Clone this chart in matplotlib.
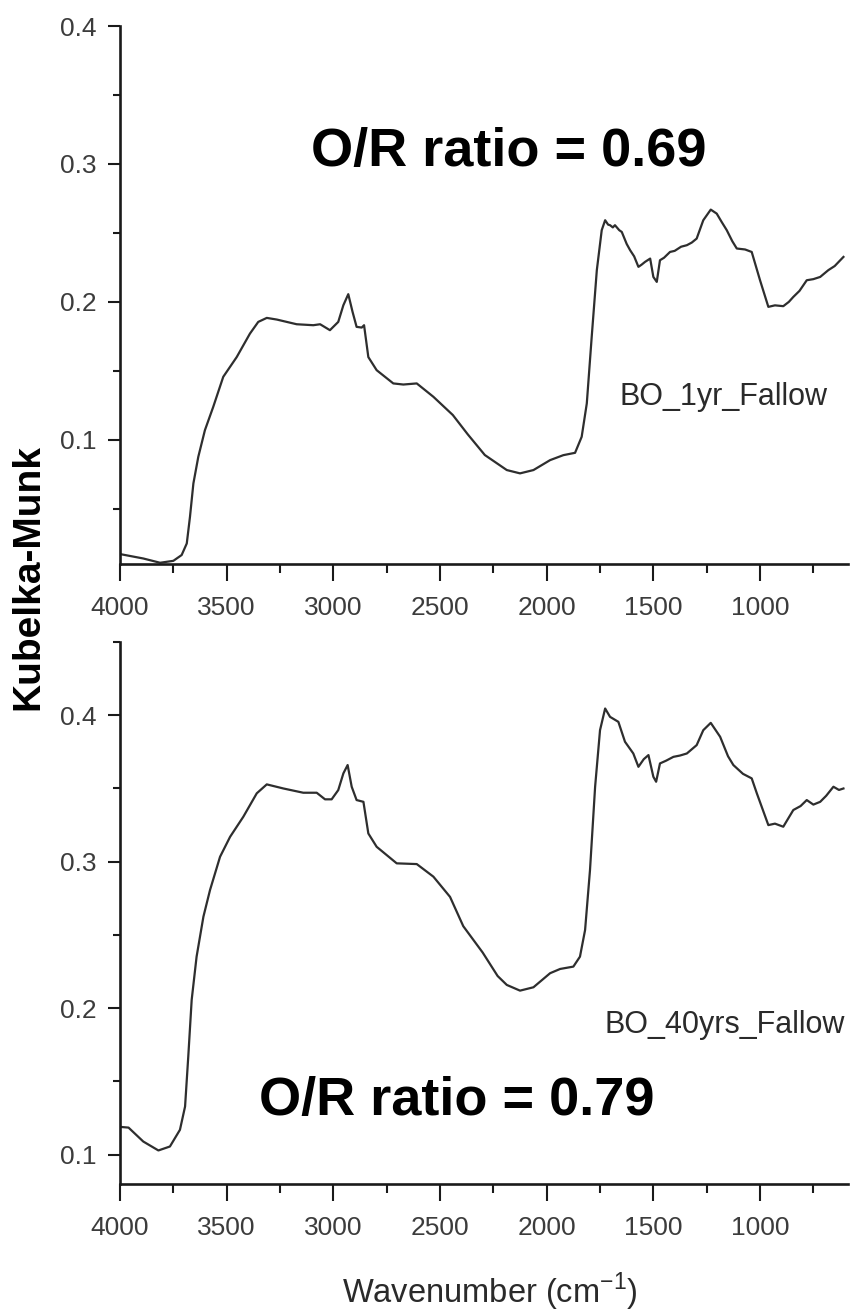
import matplotlib
matplotlib.use("Agg")
import matplotlib.pyplot as plt
from matplotlib.ticker import MultipleLocator

plt.rcParams['font.family'] = ['Liberation Sans', 'DejaVu Sans']
plt.rcParams['mathtext.fontset'] = 'custom'
plt.rcParams['mathtext.rm'] = 'Liberation Sans'

# DRIFT spectra (Kubelka-Munk units) of the two fallow soils
wn_1yr = [4000, 3891, 3812, 3750, 3711, 3687, 3672, 3656, 3633, 3602, 3563, 3516,
          3453, 3391, 3352, 3312, 3265, 3172, 3094, 3062, 3016, 2977, 2953, 2930,
          2910, 2891, 2867, 2856, 2836, 2797, 2719, 2672, 2609, 2531, 2440, 2370,
          2290, 2187, 2125, 2062, 1984, 1922, 1867, 1836, 1812, 1789, 1765, 1742,
          1726, 1712, 1703, 1690, 1680, 1660, 1648, 1625, 1609, 1590, 1570, 1555,
          1539, 1515, 1500, 1484, 1469, 1450, 1422, 1400, 1370, 1343, 1320, 1297,
          1266, 1231, 1203, 1180, 1156, 1130, 1109, 1070, 1039, 1000, 961, 930,
          891, 865, 844, 815, 781, 750, 718, 680, 650, 609]
km_1yr = [0.0172, 0.0140, 0.0109, 0.0123, 0.0165, 0.0249, 0.0442, 0.0684, 0.0877, 0.1070, 0.1239, 0.1457,
          0.1600, 0.1770, 0.1855, 0.1884, 0.1872, 0.1838, 0.1831, 0.1838, 0.1795, 0.1855, 0.1976, 0.2056,
          0.1928, 0.1819, 0.1814, 0.1831, 0.1600, 0.1505, 0.1409, 0.1401, 0.1409, 0.1312, 0.1180, 0.1040,
          0.0890, 0.0781, 0.0757, 0.0781, 0.0853, 0.0889, 0.0906, 0.1022, 0.1264, 0.1746, 0.2230, 0.2520,
          0.2592, 0.2560, 0.2556, 0.2540, 0.2556, 0.2520, 0.2507, 0.2420, 0.2375, 0.2330, 0.2254, 0.2270,
          0.2290, 0.2314, 0.2181, 0.2145, 0.2302, 0.2320, 0.2362, 0.2370, 0.2400, 0.2411, 0.2430, 0.2459,
          0.2592, 0.2669, 0.2640, 0.2580, 0.2520, 0.2440, 0.2387, 0.2380, 0.2362, 0.2157, 0.1964, 0.1975,
          0.1969, 0.2000, 0.2036, 0.2080, 0.2157, 0.2165, 0.2181, 0.2230, 0.2260, 0.2326]

wn_40yrs = [4000, 3960, 3891, 3820, 3766, 3719, 3695, 3680, 3664, 3641, 3609, 3578,
            3531, 3484, 3422, 3359, 3312, 3234, 3141, 3078, 3039, 3008, 2977, 2953,
            2933, 2914, 2891, 2859, 2836, 2797, 2703, 2609, 2531, 2453, 2391, 2300,
            2230, 2187, 2125, 2062, 1984, 1937, 1875, 1844, 1820, 1797, 1773, 1750,
            1726, 1703, 1664, 1633, 1594, 1570, 1545, 1523, 1500, 1487, 1469, 1440,
            1406, 1375, 1343, 1297, 1266, 1231, 1187, 1150, 1125, 1080, 1039, 1015,
            961, 930, 891, 870, 844, 810, 781, 750, 718, 690, 656, 630, 609]
km_40yrs = [0.1190, 0.1185, 0.1090, 0.1029, 0.1056, 0.1170, 0.1329, 0.1670, 0.2057, 0.2352, 0.2625, 0.2807,
            0.3034, 0.3170, 0.3307, 0.3467, 0.3528, 0.3500, 0.3471, 0.3471, 0.3426, 0.3426, 0.3489, 0.3603,
            0.3660, 0.3512, 0.3421, 0.3409, 0.3193, 0.3102, 0.2989, 0.2984, 0.2898, 0.2760, 0.2560, 0.2380,
            0.2220, 0.2159, 0.2120, 0.2143, 0.2239, 0.2268, 0.2284, 0.2352, 0.2534, 0.2943, 0.3512, 0.3898,
            0.4046, 0.3989, 0.3955, 0.3819, 0.3739, 0.3648, 0.3700, 0.3728, 0.3580, 0.3546, 0.3671, 0.3690,
            0.3716, 0.3725, 0.3739, 0.3796, 0.3898, 0.3948, 0.3853, 0.3720, 0.3660, 0.3600, 0.3569, 0.3467,
            0.3250, 0.3260, 0.3239, 0.3290, 0.3353, 0.3380, 0.3421, 0.3390, 0.3409, 0.3450, 0.3512, 0.3490,
            0.3500]

panels = [
    dict(wn=wn_1yr, km=km_1yr, ylim=(0.01, 0.4), name='BO_1yr_Fallow', ratio='O/R ratio = 0.69'),
    dict(wn=wn_40yrs, km=km_40yrs, ylim=(0.08, 0.45), name='BO_40yrs_Fallow', ratio='O/R ratio = 0.79'),
]

W, H = 852, 1316
fig = plt.figure(figsize=(W / 100, H / 100), dpi=100)

ax_top = fig.add_axes([120 / W, 1 - 564 / H, 727.5 / W, 538 / H])
ax_bot = fig.add_axes([120 / W, 1 - 1184 / H, 727.5 / W, 542 / H])

tick_color = '#3c3c3c'
for ax, p in zip([ax_top, ax_bot], panels):
    ax.plot(p['wn'], p['km'], color='#2e2e2e', lw=1.6)
    ax.set_xlim(4000, 590)
    ax.set_ylim(*p['ylim'])
    for s in ['top', 'right']:
        ax.spines[s].set_visible(False)
    for s in ['left', 'bottom']:
        ax.spines[s].set_linewidth(1.9)
        ax.spines[s].set_color('#1a1a1a')
    ax.xaxis.set_major_locator(MultipleLocator(500))
    ax.xaxis.set_minor_locator(MultipleLocator(250))
    ax.yaxis.set_major_locator(MultipleLocator(0.1))
    ax.yaxis.set_minor_locator(MultipleLocator(0.05))
    ax.tick_params(axis='x', which='major', direction='out', length=12, width=1.5,
                   pad=11, labelsize=19, labelcolor=tick_color, color='#1a1a1a')
    ax.tick_params(axis='x', which='minor', direction='out', length=6.5, width=1.5,
                   color='#1a1a1a')
    ax.tick_params(axis='y', which='major', direction='out', length=9, width=1.5,
                   pad=8, labelsize=19, labelcolor=tick_color, color='#1a1a1a')
    ax.tick_params(axis='y', which='minor', direction='out', length=5, width=1.5,
                   color='#1a1a1a')
    ax.xaxis.set_major_formatter(plt.FuncFormatter(lambda v, _: f'{v:.0f}'))
    ax.yaxis.set_major_formatter(plt.FuncFormatter(lambda v, _: f'{v:.1f}'))

# sample names and O/R ratios
fig.text(723 / W, 1 - 405 / H, panels[0]['name'], ha='center', va='baseline',
         fontsize=22, color='#2a2a2a')
fig.text(725 / W, 1 - 1033 / H, panels[1]['name'], ha='center', va='baseline',
         fontsize=22, color='#2a2a2a')
fig.text(509 / W, 1 - 166 / H, panels[0]['ratio'], ha='center', va='baseline',
         fontsize=39, fontweight='bold', color='black')
fig.text(457 / W, 1 - 1115 / H, panels[1]['ratio'], ha='center', va='baseline',
         fontsize=39, fontweight='bold', color='black')

# shared axis titles
fig.text(28 / W, 1 - 577 / H, 'Kubelka-Munk', rotation=90, ha='center', va='center',
         fontsize=28, fontweight='bold', color='black')
fig.text(490 / W, 1 - 1292 / H, r'Wavenumber (cm$^{\mathregular{-1}}$)', ha='center',
         va='center', fontsize=23.5, color='#2a2a2a')

fig.savefig('out.png', dpi=100, facecolor='white')
